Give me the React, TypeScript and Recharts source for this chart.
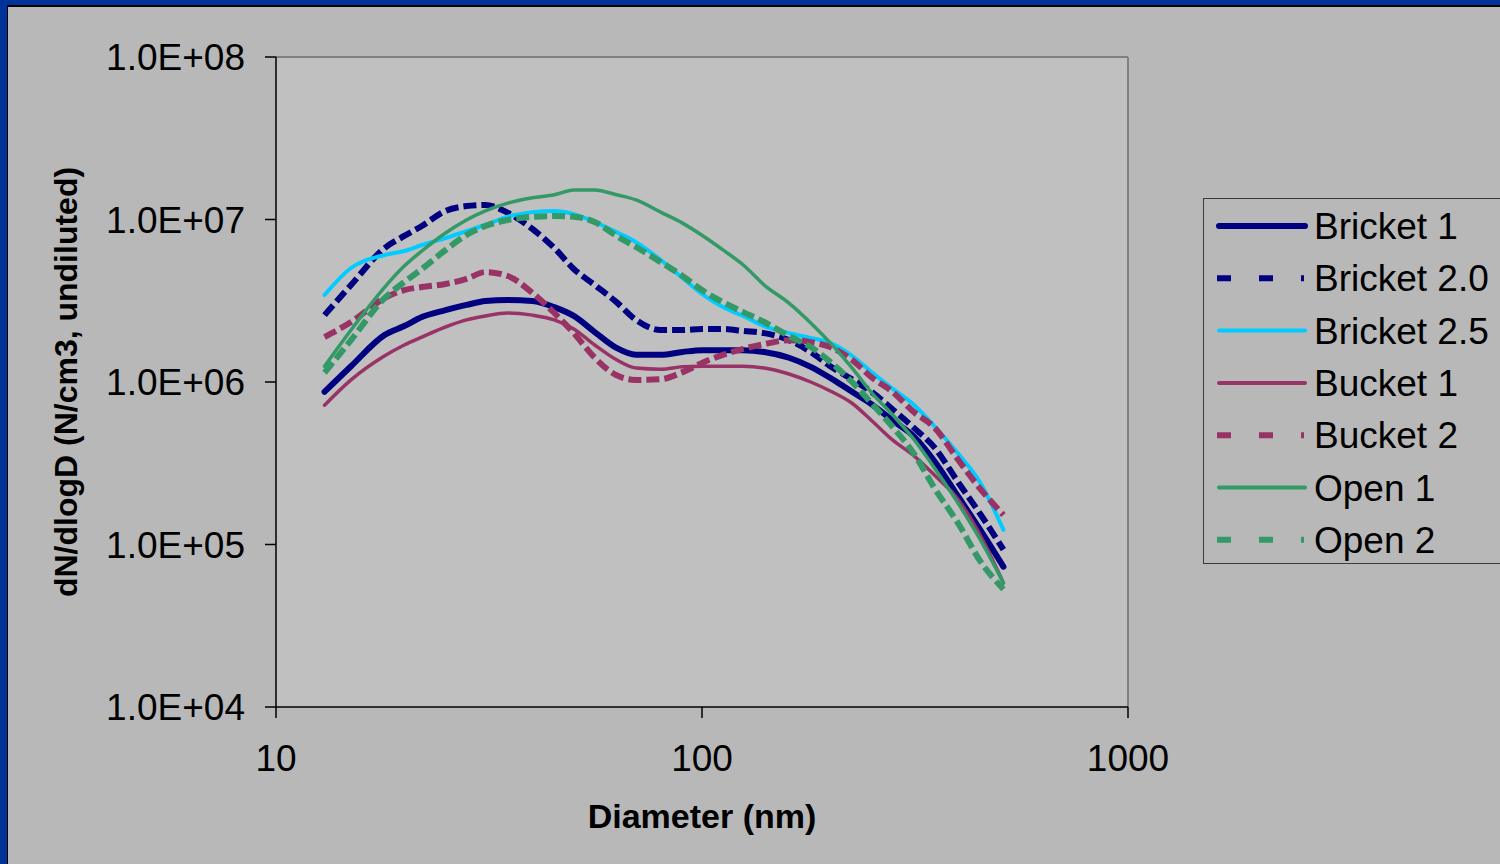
import { LineChart, Line, XAxis, YAxis, CartesianGrid, Legend, ReferenceLine } from 'recharts';

// ─── Data ────────────────────────────────────────────────────────────────────

const diameters = [13, 15, 18, 20, 22, 25, 28, 31, 35, 40, 45, 50, 56, 63, 70, 80, 90, 100, 112, 125, 140, 160, 180, 200, 225, 250, 280, 315, 350, 400, 450, 510];

const bricket1 = [8.7e5, 1.25e6, 1.95e6, 2.21e6, 2.51e6, 2.77e6, 2.98e6, 3.15e6, 3.2e6, 3.15e6, 2.89e6, 2.55e6, 2.03e6, 1.62e6, 1.47e6, 1.47e6, 1.53e6, 1.57e6, 1.57e6, 1.57e6, 1.53e6, 1.41e6, 1.24e6, 1.06e6, 8.7e5, 7.3e5, 5.8e5, 4.6e5, 3.3e5, 1.96e5, 1.23e5, 7.3e4];
const bricket20 = [2.58e6, 3.95e6, 6.68e6, 7.92e6, 9.12e6, 1.13e7, 1.21e7, 1.23e7, 1.1e7, 8.74e6, 6.68e6, 4.96e6, 3.95e6, 3.1e6, 2.41e6, 2.09e6, 2.09e6, 2.12e6, 2.12e6, 2.06e6, 2.0e6, 1.81e6, 1.53e6, 1.25e6, 1.04e6, 8.7e5, 6.8e5, 5.2e5, 4.0e5, 2.4e5, 1.54e5, 9.3e4];
const bricket25 = [3.43e6, 5.03e6, 6.05e6, 6.4e6, 6.97e6, 7.69e6, 8.49e6, 9.25e6, 1.04e7, 1.11e7, 1.13e7, 1.08e7, 9.65e6, 8.36e6, 7.26e6, 5.63e6, 4.37e6, 3.48e6, 2.89e6, 2.55e6, 2.21e6, 2.0e6, 1.87e6, 1.74e6, 1.45e6, 1.15e6, 9.1e5, 7.2e5, 5.4e5, 3.6e5, 2.4e5, 1.23e5];
const bucket1 = [7.2e5, 1.03e6, 1.45e6, 1.69e6, 1.89e6, 2.18e6, 2.41e6, 2.55e6, 2.66e6, 2.58e6, 2.41e6, 2.12e6, 1.69e6, 1.37e6, 1.22e6, 1.2e6, 1.24e6, 1.25e6, 1.25e6, 1.25e6, 1.22e6, 1.12e6, 1.0e6, 8.8e5, 7.4e5, 5.8e5, 4.4e5, 3.5e5, 2.7e5, 1.88e5, 1.14e5, 5.8e4];
const bucket2 = [1.89e6, 2.34e6, 3.29e6, 3.68e6, 3.84e6, 4.01e6, 4.31e6, 4.75e6, 4.49e6, 3.53e6, 2.66e6, 2.0e6, 1.41e6, 1.1e6, 1.03e6, 1.04e6, 1.15e6, 1.31e6, 1.47e6, 1.6e6, 1.71e6, 1.81e6, 1.76e6, 1.64e6, 1.37e6, 1.07e6, 8.7e5, 6.5e5, 5.3e5, 3.3e5, 2.2e5, 1.52e5];
const open1 = [1.25e6, 2.09e6, 3.84e6, 5.17e6, 6.4e6, 8.26e6, 9.93e6, 1.13e7, 1.26e7, 1.36e7, 1.42e7, 1.52e7, 1.52e7, 1.42e7, 1.32e7, 1.11e7, 9.5e6, 8.0e6, 6.5e6, 5.25e6, 3.95e6, 3.06e6, 2.31e6, 1.74e6, 1.22e6, 8.6e5, 6.3e5, 4.4e5, 3.0e5, 1.78e5, 1.07e5, 5.8e4];
const open2 = [1.14e6, 1.81e6, 3.29e6, 4.12e6, 4.96e6, 6.49e6, 8.03e6, 9.12e6, 9.93e6, 1.04e7, 1.05e7, 1.04e7, 9.65e6, 7.92e6, 6.77e6, 5.47e6, 4.49e6, 3.68e6, 3.1e6, 2.69e6, 2.34e6, 1.92e6, 1.64e6, 1.33e6, 1.0e6, 7.4e5, 5.3e5, 3.6e5, 2.26e5, 1.34e5, 7.9e4, 5.3e4];

const xTicks = [10, 100, 1000];
const yTicks = [1e4, 1e5, 1e6, 1e7, 1e8];

const FONT = '"Liberation Sans", Arial, sans-serif';
const NAVY = '#000080';
const CYAN = '#00ccff';
const PLUM = '#993366';
const GREEN = '#339966';

const series = [
  { key: 'bricket1', name: 'Bricket 1', values: bricket1, color: NAVY, width: 6, dashed: false },
  { key: 'bricket20', name: 'Bricket 2.0', values: bricket20, color: NAVY, width: 6, dashed: true },
  { key: 'bricket25', name: 'Bricket 2.5', values: bricket25, color: CYAN, width: 4, dashed: false },
  { key: 'bucket1', name: 'Bucket 1', values: bucket1, color: PLUM, width: 3.5, dashed: false },
  { key: 'bucket2', name: 'Bucket 2', values: bucket2, color: PLUM, width: 6, dashed: true },
  { key: 'open1', name: 'Open 1', values: open1, color: GREEN, width: 3.5, dashed: false },
  { key: 'open2', name: 'Open 2', values: open2, color: GREEN, width: 6, dashed: true },
];

const chartData = diameters.map((d, i) => {
  const row: Record<string, number> = { d };
  series.forEach((s) => {
    row[s.key] = s.values[i];
  });
  return row;
});

const sciLabel = (v: number) => `1.0E+${String(Math.round(Math.log10(v))).padStart(2, '0')}`;

// ─── Legend ──────────────────────────────────────────────────────────────────

function ChartLegend() {
  return (
    <div
      style={{
        width: 320,
        height: 366,
        boxSizing: 'border-box',
        border: '1px solid #3a3a3a',
        background: '#b8b8b8',
      }}
    >
      <svg width={320} height={364} style={{ display: 'block' }}>
        {series.map((s, i) => {
          const y = 27 + i * 52.3;
          return (
            <g key={s.key}>
              <line
                x1={s.dashed ? 13 : 15}
                x2={s.dashed ? 100 : 101}
                y1={y}
                y2={y}
                stroke={s.color}
                strokeWidth={s.dashed ? 6 : i === 0 ? 6 : 4}
                strokeDasharray={s.dashed ? '14 28' : undefined}
                strokeLinecap={s.dashed ? 'butt' : 'round'}
              />
              <text x={110} y={y + 13} fontSize={37} fontFamily={FONT} fill="#000">
                {s.name}
              </text>
            </g>
          );
        })}
      </svg>
    </div>
  );
}

// ─── Chart ───────────────────────────────────────────────────────────────────

export default function App() {
  return (
    <div style={{ position: 'fixed', left: 0, top: 0, width: 1500, height: 864, background: '#003399', overflow: 'hidden' }}>
      <div style={{ position: 'absolute', left: 7, top: 5, right: 0, bottom: 0, background: '#000' }} />
      <div style={{ position: 'absolute', left: 8, top: 7, right: 0, bottom: 0, background: '#b8b8b8' }} />
      <div style={{ position: 'absolute', left: 0, top: 0 }}>
        <LineChart
          width={1500}
          height={864}
          data={chartData}
          margin={{ top: 57, right: 372, bottom: 27, left: 46 }}
          style={{ fontFamily: FONT }}
        >
          <CartesianGrid fill="#c0c0c0" horizontal={false} vertical={false} />
          <XAxis
            dataKey="d"
            type="number"
            scale="log"
            domain={[10, 1000]}
            ticks={xTicks}
            allowDataOverflow
            height={130}
            tickSize={11}
            tickMargin={27}
            axisLine={{ stroke: '#000', strokeWidth: 1.5 }}
            tickLine={{ stroke: '#000', strokeWidth: 1.5 }}
            tick={{ fontSize: 37, fill: '#000', fontFamily: FONT }}
            label={{
              value: 'Diameter (nm)',
              position: 'insideBottom',
              offset: 9,
              style: { fontSize: 34, fontWeight: 'bold', fill: '#000', fontFamily: FONT },
            }}
          />
          <YAxis
            type="number"
            scale="log"
            domain={[1e4, 1e8]}
            ticks={yTicks}
            allowDataOverflow
            width={230}
            tickSize={11}
            tickMargin={20}
            tickFormatter={sciLabel}
            axisLine={{ stroke: '#000', strokeWidth: 1.5 }}
            tickLine={{ stroke: '#000', strokeWidth: 1.5 }}
            tick={{ fontSize: 37, fill: '#000', fontFamily: FONT }}
            label={{
              value: 'dN/dlogD (N/cm3, undiluted)',
              angle: -90,
              position: 'insideLeft',
              offset: 20,
              style: { textAnchor: 'middle', fontSize: 32, fontWeight: 'bold', fill: '#000', fontFamily: FONT },
            }}
          />
          <ReferenceLine y={1e8} stroke="#808080" strokeWidth={2} />
          <ReferenceLine x={1000} stroke="#808080" strokeWidth={2} />
          <Legend
            layout="vertical"
            align="center"
            verticalAlign="middle"
            content={() => <ChartLegend />}
            wrapperStyle={{ position: 'absolute', left: 1203, top: 198, width: 320, height: 366 }}
          />
          {series.map((s) => (
            <Line
              key={s.key}
              dataKey={s.key}
              name={s.name}
              type="monotone"
              stroke={s.color}
              strokeWidth={s.width}
              strokeDasharray={s.dashed ? '13 5' : undefined}
              strokeLinecap={s.dashed ? 'butt' : 'round'}
              strokeLinejoin="round"
              dot={false}
              activeDot={false}
              isAnimationActive={false}
            />
          ))}
        </LineChart>
      </div>
    </div>
  );
}
